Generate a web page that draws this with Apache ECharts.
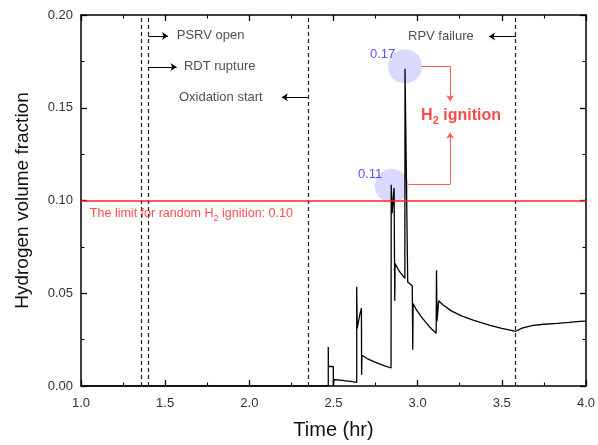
<!DOCTYPE html>
<html>
<head>
<meta charset="utf-8">
<script src="https://cdn.jsdelivr.net/npm/echarts@6/dist/echarts.min.js"></script>
<style>
html,body{margin:0;padding:0;background:#fff;}
#chart{width:598px;height:445px;}
</style>
</head>
<body>
<div id="chart"></div>
<script>
// ---- data ----
const timeHr = [1.0, 2.469, 2.469, 2.470, 2.499, 2.499, 2.502, 2.55, 2.60, 2.638, 2.638, 2.641, 2.655, 2.666, 2.667, 2.669, 2.70, 2.75, 2.80, 2.842,
  2.843, 2.848, 2.860, 2.864, 2.866, 2.890, 2.924, 2.925, 2.941, 2.968, 2.971, 2.973, 2.99, 3.02, 3.05, 3.08, 3.110, 3.112, 3.115, 3.125,
  3.15, 3.20, 3.26, 3.33, 3.43, 3.50, 3.583, 3.62, 3.686, 3.75, 3.83, 3.90, 3.965, 4.0];
const h2Fraction = [0, 0, 0.021, 0.0105, 0.0105, 0, 0.0035, 0.003, 0.0025, 0.002, 0.0535, 0.031, 0.038, 0.042, 0.006, 0.0166, 0.0148, 0.0127, 0.011, 0.0097,
  0.1085, 0.093, 0.1067, 0.046, 0.066, 0.062, 0.058, 0.171, 0.056, 0.054, 0.0195, 0.0445, 0.0415, 0.0375, 0.0342, 0.031, 0.0284, 0.0624, 0.035, 0.046,
  0.0438, 0.0405, 0.0378, 0.0355, 0.0327, 0.0311, 0.0295, 0.0312, 0.0327, 0.0333, 0.0338, 0.0343, 0.0348, 0.035];
const eventTimes = [1.365, 1.40, 2.347, 3.583];
const ignitionLimit = 0.10;
const xTicks = {min: 1.0, max: 4.0, step: 0.5};
const yTicks = {min: 0.0, max: 0.20, step: 0.05};
const peakPoints = [[2.925, 0.1723], [2.846, 0.1079]];
const peakLabels = ['0.17', '0.11'];
const peakLabelPos = [[2.717, 0.1786], [2.646, 0.1142]];
const eventLabels = ['PSRV open', 'RDT rupture', 'Oxidation start', 'RPV failure'];
const eventLabelPos = [[1.569, 0.1887], [1.612, 0.1720], [1.582, 0.1556], [2.943, 0.1884]];
const eventArrows = [
  [[1.40, 0.1887], [1.517, 0.1887]],
  [[1.40, 0.1720], [1.568, 0.1720]],
  [[2.347, 0.1556], [2.193, 0.1556]],
  [[3.583, 0.1884], [3.424, 0.1884]]
];
const ignitionLegs = [
  [[3.024, 0.1723], [3.193, 0.1723]],
  [[2.945, 0.1088], [3.193, 0.1088]]
];
const ignitionArrows = [
  [[3.193, 0.1723], [3.193, 0.1535]],
  [[3.193, 0.1088], [3.193, 0.1366]]
];
const ignitionLabelPos = [3.258, 0.1458];
const limitLabelPos = [1.053, 0.0928];

// ---- chart ----
const FONT = "'Liberation Sans', Arial, sans-serif";
const chart = echarts.init(document.getElementById('chart'), null, {renderer: 'canvas'});
const curve = timeHr.map((t, i) => [t, h2Fraction[i]]);

function xAxisCfg(pos, showLabel) {
  return {
    type: 'value', position: pos, min: xTicks.min, max: xTicks.max, interval: xTicks.step,
    name: showLabel ? 'Time (hr)' : '', nameLocation: 'middle', nameGap: 34,
    nameTextStyle: {fontFamily: FONT, fontSize: 20, color: '#111'},
    axisLine: {show: true, onZero: false, lineStyle: {color: '#000', width: 1.5}},
    axisTick: {show: true, inside: true, length: 6, lineStyle: {color: '#000', width: 1.3}},
    minorTick: {show: true, splitNumber: 2, length: 3.5, lineStyle: {color: '#000', width: 1.1}},
    axisLabel: {show: showLabel, fontFamily: FONT, fontSize: 13, color: '#333', margin: 11,
      formatter: v => v.toFixed(1)},
    splitLine: {show: false}, minorSplitLine: {show: false}
  };
}
function yAxisCfg(pos, showLabel) {
  return {
    type: 'value', position: pos, min: yTicks.min, max: yTicks.max, interval: yTicks.step,
    name: showLabel ? 'Hydrogen volume fraction' : '', nameLocation: 'middle', nameGap: 49,
    nameTextStyle: {fontFamily: FONT, fontSize: 19, color: '#111'},
    axisLine: {show: true, onZero: false, lineStyle: {color: '#000', width: 1.5}},
    axisTick: {show: true, inside: true, length: 6, lineStyle: {color: '#000', width: 1.3}},
    minorTick: {show: true, splitNumber: 2, length: 3.5, lineStyle: {color: '#000', width: 1.1}},
    axisLabel: {show: showLabel, fontFamily: FONT, fontSize: 13, color: '#333', margin: 8,
      formatter: v => v.toFixed(2)},
    splitLine: {show: false}, minorSplitLine: {show: false}
  };
}

const option = {
  animation: false,
  backgroundColor: '#fff',
  grid: {left: 81, right: 12, top: 15, bottom: 55, containLabel: false},
  xAxis: [xAxisCfg('bottom', true), xAxisCfg('top', false)],
  yAxis: [yAxisCfg('left', true), yAxisCfg('right', false)],
  series: [
    {
      type: 'scatter', name: 'peaks', z: 1,
      symbol: 'circle', symbolSize: 34,
      itemStyle: {
        color: 'rgba(175,175,250,0.6)',
        decal: {symbol: 'rect', symbolSize: 1, dashArrayX: [1, 1], dashArrayY: [1, 1], color: 'rgba(255,255,255,0.45)', rotation: 0}
      },
      data: peakPoints,
      silent: true
    },
    {
      type: 'line', name: 'events', z: 2, data: [], silent: true,
      markLine: {
        silent: true, symbol: ['none', 'none'], animation: false,
        label: {show: false},
        data: eventTimes.map(t => ({xAxis: t, lineStyle: {type: [4, 3], color: '#222', width: 1.2}}))
          .concat([{yAxis: ignitionLimit, lineStyle: {type: 'solid', color: '#ff2020', width: 1.5}}])
      }
    },
    {
      type: 'line', name: 'H2', z: 3,
      data: curve, showSymbol: false, symbol: 'none',
      lineStyle: {color: '#000', width: 1.3},
      silent: true
    },
    {
      type: 'lines', coordinateSystem: 'cartesian2d', z: 4,
      symbol: ['none', 'arrow'], symbolSize: 6,
      lineStyle: {color: '#000', width: 1, opacity: 1, curveness: 0},
      data: eventArrows.map(c => ({coords: c})),
      silent: true
    },
    {
      type: 'lines', coordinateSystem: 'cartesian2d', z: 4,
      symbol: ['none', 'none'],
      lineStyle: {color: '#ff5a5a', width: 1, opacity: 1, curveness: 0},
      data: ignitionLegs.map(c => ({coords: c})),
      silent: true
    },
    {
      type: 'lines', coordinateSystem: 'cartesian2d', z: 4,
      symbol: ['none', 'arrow'], symbolSize: 6,
      lineStyle: {color: '#ff5a5a', width: 1, opacity: 1, curveness: 0},
      data: ignitionArrows.map(c => ({coords: c})),
      silent: true
    },
    {
      type: 'scatter', z: 5, symbolSize: 0.1, silent: true,
      itemStyle: {color: 'rgba(0,0,0,0)'},
      label: {show: true, position: [0, 0], align: 'left', verticalAlign: 'middle',
        fontFamily: FONT, fontSize: 13, color: '#222', formatter: p => p.name},
      data: eventLabels.map((n, i) => ({name: n, value: eventLabelPos[i]}))
    },
    {
      type: 'scatter', z: 5, symbolSize: 0.1, silent: true,
      itemStyle: {color: 'rgba(0,0,0,0)'},
      label: {show: true, position: [0, 0], align: 'left', verticalAlign: 'middle',
        fontFamily: FONT, fontSize: 13, color: '#2b2bf5', formatter: p => p.name},
      data: peakLabels.map((n, i) => ({name: n, value: peakLabelPos[i]}))
    },
    {
      type: 'scatter', z: 5, symbolSize: 0.1, silent: true,
      itemStyle: {color: 'rgba(0,0,0,0)'},
      label: {show: true, position: [0, 0], align: 'center', verticalAlign: 'middle',
        formatter: '{a|H}{s|2}{a| ignition}',
        rich: {
          a: {fontFamily: FONT, fontSize: 16, fontWeight: 'bold', color: '#ff1a1a', lineHeight: 22, verticalAlign: 'middle'},
          s: {fontFamily: FONT, fontSize: 11, fontWeight: 'bold', color: '#ff1a1a', lineHeight: 22, verticalAlign: 'bottom'}
        }},
      data: [{name: 'H2 ignition', value: ignitionLabelPos}]
    },
    {
      type: 'scatter', z: 5, symbolSize: 0.1, silent: true,
      itemStyle: {color: 'rgba(0,0,0,0)'},
      label: {show: true, position: [0, 0], align: 'left', verticalAlign: 'middle',
        formatter: '{a|The limit for random H}{s|2}{a| ignition: 0.10}',
        rich: {
          a: {fontFamily: FONT, fontSize: 12.5, color: '#ff2020', lineHeight: 18, verticalAlign: 'middle'},
          s: {fontFamily: FONT, fontSize: 9, color: '#ff2020', lineHeight: 18, verticalAlign: 'bottom'}
        }},
      data: [{name: 'limit', value: limitLabelPos}]
    }
  ]
};
chart.setOption(option);
</script>
</body>
</html>
